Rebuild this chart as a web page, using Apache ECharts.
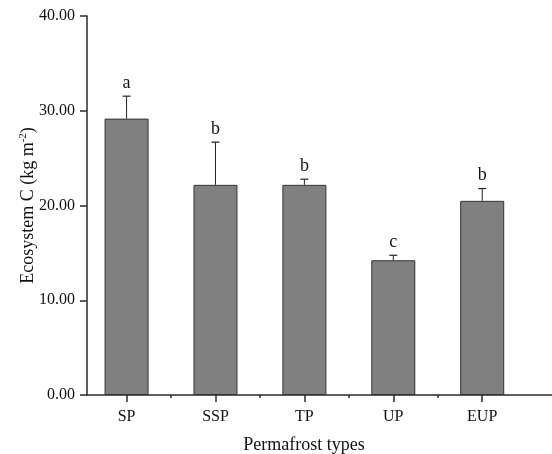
<!DOCTYPE html>
<html>
<head>
<meta charset="utf-8">
<script src="https://cdn.jsdelivr.net/npm/echarts@6/dist/echarts.min.js"></script>
<style>html,body{margin:0;padding:0;background:#fff;}#c{width:552px;height:454px;}</style>
</head>
<body>
<div id="c"></div>
<script>
const categories = ['SP', 'SSP', 'TP', 'UP', 'EUP'];
const means = [29.17, 22.18, 22.18, 14.22, 20.49];
const errors = [2.37, 4.51, 0.60, 0.53, 1.30];
const letters = ['a', 'b', 'b', 'c', 'b'];
const yTicks = [0, 10, 20, 30, 40];

const FONT = '"Liberation Serif", "Times New Roman", serif';
const AX = '#2a2a2a';
const positions = categories.map((c, i) => i + 1);
const boundaries = positions.slice(0, -1).map(p => p + 0.5);

const chart = echarts.init(document.getElementById('c'), null, {renderer: 'canvas'});
chart.setOption({
  animation: false,
  backgroundColor: '#fff',
  grid: {left: 87, right: 0, top: 16, bottom: 59, containLabel: false, outerBoundsMode: 'none'},
  xAxis: [{
    type: 'value', position: 'bottom', min: 0.555, max: 5.785,
    name: 'Permafrost types', nameLocation: 'middle', nameGap: 41.5, nameMoveOverlap: false,
    nameTextStyle: {fontFamily: FONT, fontSize: 18, color: '#111', padding: [0, 31, 0, 0]},
    axisLine: {show: true, onZero: false, lineStyle: {color: AX, width: 1.5}},
    axisTick: {show: true, length: 7, customValues: positions, lineStyle: {color: AX, width: 1.5}},
    axisLabel: {customValues: positions, margin: 14, fontFamily: FONT, fontSize: 16, color: '#111',
      formatter: v => categories[Math.round(v) - 1] || ''},
    splitLine: {show: false}
  }, {
    type: 'value', position: 'bottom', min: 0.555, max: 5.785,
    axisLine: {show: false},
    axisTick: {show: true, length: 3, customValues: boundaries, lineStyle: {color: AX, width: 1.5}},
    axisLabel: {show: false},
    splitLine: {show: false}
  }],
  yAxis: {
    type: 'value', min: 0, max: 40, interval: 10,
    name: 'Ecosystem C (kg m{sup|-2})', nameLocation: 'middle', nameGap: 49, nameMoveOverlap: false,
    nameTextStyle: {fontFamily: FONT, fontSize: 18, color: '#111',
      rich: {sup: {fontFamily: FONT, fontSize: 11, color: '#111', padding: [0, 0, 9, 0]}}},
    axisLine: {show: true, lineStyle: {color: AX, width: 1.5}},
    axisTick: {show: true, length: 7, lineStyle: {color: AX, width: 1.5}},
    axisLabel: {margin: 12, fontFamily: FONT, fontSize: 16, color: '#111',
      formatter: v => yTicks.includes(v) ? v.toFixed(2) : ''},
    splitLine: {show: false}
  },
  series: [{
    type: 'bar',
    xAxisIndex: 0,
    barWidth: 44,
    data: means.map((m, i) => [positions[i], m]),
    itemStyle: {color: '#808080', borderColor: '#333', borderWidth: 1}
  }, {
    type: 'custom',
    xAxisIndex: 0,
    data: means.map((m, i) => [positions[i], m, errors[i], i]),
    renderItem: function (params, api) {
      const x = api.value(0), m = api.value(1), e = api.value(2), idx = api.value(3);
      const base = api.coord([x, m]);
      const top = api.coord([x, m + e]);
      const cap = 4;
      return {
        type: 'group',
        children: [
          {type: 'line', shape: {x1: base[0], y1: base[1], x2: top[0], y2: top[1]}, style: {stroke: '#222', lineWidth: 1}},
          {type: 'line', shape: {x1: top[0] - cap, y1: top[1], x2: top[0] + cap, y2: top[1]}, style: {stroke: '#222', lineWidth: 1.2}},
          {type: 'text', style: {text: letters[idx], x: top[0], y: top[1] - 4, textAlign: 'center', textVerticalAlign: 'bottom',
            font: '18px ' + FONT, fill: '#111'}}
        ]
      };
    },
    z: 5
  }]
});
</script>
</body>
</html>
